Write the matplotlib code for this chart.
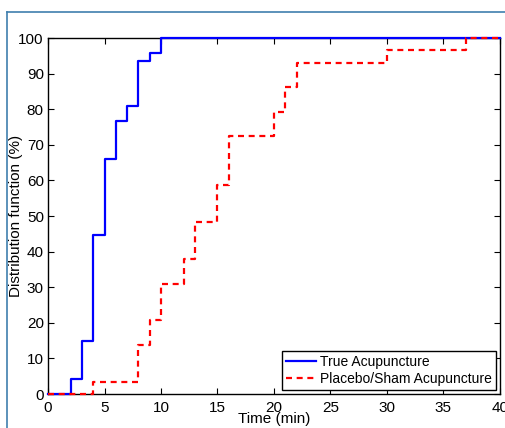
import matplotlib.pyplot as plt
from matplotlib.lines import Line2D

plt.rcParams['font.family'] = ['Liberation Sans', 'DejaVu Sans']

# step times (min) and cumulative distribution (%)
true_times = [0, 2, 3, 4, 5, 6, 7, 8, 9, 10, 40]
true_vals = [0, 4.3, 14.9, 44.7, 66.0, 76.6, 80.9, 93.6, 95.7, 100, 100]

sham_times = [0, 4, 8, 9, 10, 12, 13, 15, 16, 20, 21, 22, 30, 37, 40]
sham_vals = [0, 3.4, 13.8, 20.7, 31.0, 37.9, 48.3, 58.6, 72.4, 79.3, 86.2, 93.1, 96.6, 100, 100]

labels = ['True Acupuncture', 'Placebo/Sham Acupuncture']

fig = plt.figure(figsize=(5.06, 4.28), dpi=100)
ax = fig.add_axes([0.0949, 0.0794, 0.893, 0.8318])

ax.step(true_times, true_vals, where='post', color='#0000ff', lw=1.6,
        label=labels[0], clip_on=False, zorder=3)
ax.step(sham_times, sham_vals, where='post', color='#ff0000', lw=1.6,
        ls=(0, (2.7, 2.1)), label=labels[1], clip_on=False, zorder=3)

ax.set_xlim(0, 40)
ax.set_ylim(0, 100)
ax.set_xticks(range(0, 41, 5))
ax.set_yticks(range(0, 101, 10))
ax.tick_params(direction='in', top=True, right=True, length=4, width=0.8,
               labelsize=11)
ax.tick_params(axis='x', pad=5)
ax.tick_params(axis='y', pad=3)
for s in ax.spines.values():
    s.set_linewidth(1.0)
ax.set_xlabel('Time (min)', fontsize=11)
ax.set_ylabel('Distribution function (%)', fontsize=11)
ax.xaxis.set_label_coords(0.5, -0.05)
ax.yaxis.set_label_coords(-0.055, 0.5)

leg = ax.legend(loc='lower right', fontsize=10, frameon=True, fancybox=False,
                edgecolor='black', handlelength=2.1, handletextpad=0.3,
                borderpad=0.3, labelspacing=0.2, borderaxespad=0.3)
leg.get_frame().set_linewidth(1.0)
leg.get_frame().set_alpha(1)

# thin frame around the figure, as in the source
fig.add_artist(Line2D([7 / 506, 1], [1 - 12 / 428, 1 - 12 / 428],
                      color='#3f7fae', lw=1.2, transform=fig.transFigure))
fig.add_artist(Line2D([7 / 506, 7 / 506], [0, 1 - 12 / 428],
                      color='#3f7fae', lw=1.2, transform=fig.transFigure))

fig.savefig('out.png', dpi=100)
